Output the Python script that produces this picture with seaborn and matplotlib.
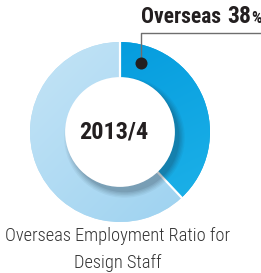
import matplotlib
matplotlib.use("Agg")
import numpy as np
import matplotlib.pyplot as plt
import seaborn as sns
from matplotlib.patches import Circle
from matplotlib.colors import LinearSegmentedColormap

# data
segments = ["Overseas", "Domestic"]
shares = [38, 62]
period = "2013/4"
caption = "Overseas Employment Ratio for\nDesign Staff"

sns.set_style("white")
plt.rcParams["font.family"] = ["Roboto Condensed", "DejaVu Sans"]

W, H = 261, 273
fig = plt.figure(figsize=(W / 100, H / 100), dpi=100)

# donut centred at (120, 132) px, radius 90 px
cx, cy, r = 120, 132, 90
ax = fig.add_axes([(cx - r) / W, (H - cy - r) / H, 2 * r / W, 2 * r / H])

base = ["#0aa5e2", "#b2dbf3"]
wedges, _ = ax.pie(shares, colors=base, startangle=90, counterclock=False, radius=1,
                   wedgeprops=dict(width=0.40, edgecolor="none", linewidth=0))

# diagonal gradients clipped to each wedge
gy, gx = np.mgrid[1:-1:200j, -1:1:200j]
grads = [
    (["#0098dc", "#1fb3e9"], (gx * 0.5 - gy) / 1.5),
    (["#c4e4f6", "#9bd1f0"], (gx - gy) / 2),
]
for w, (cols, z) in zip(wedges, grads):
    im = ax.imshow(z, extent=[-1, 1, -1, 1], cmap=LinearSegmentedColormap.from_list("g", cols),
                   vmin=-1, vmax=1, zorder=1.5, interpolation="bilinear")
    im.set_clip_path(w)

# white separators
total = sum(shares)
for ang in [90, 90 - 360 * shares[0] / total]:
    t = np.deg2rad(ang)
    ax.plot([0.6 * np.cos(t), np.cos(t)], [0.6 * np.sin(t), np.sin(t)], color="white",
            lw=1.6, zorder=2)

ax.set_xlim(-1, 1)
ax.set_ylim(-1, 1)
ax.set_aspect("equal")
ax.axis("off")

# soft shadow under the centre disc
for i, a in enumerate([0.05, 0.06, 0.07, 0.08, 0.10]):
    ax.add_patch(Circle((0.05, -0.06), 0.67 - i * 0.015, color="#1a2a3a", alpha=a, lw=0, zorder=3))
ax.add_patch(Circle((0, 0), 0.61, color="white", lw=0, zorder=4))
ax.text(-0.065, 0.0, period, ha="center", va="center", fontsize=17.5, fontweight="bold",
        color="#231f20", zorder=5)

# leader to the overseas label
dot = (0.233, 0.767)
ax.plot([dot[0], dot[0], 1.57], [dot[1], 1.10, 1.10], color="#6e6e6e", lw=1.0,
        clip_on=False, zorder=5)
ax.scatter([dot[0]], [dot[1]], s=75, color="#231f20", lw=0, zorder=6, clip_on=False)

# overseas label, pieces placed one after another
rend = fig.canvas.get_renderer()
x = 141
for s, size, gap in [(segments[0], 15.5, 6), (f"{shares[0]}", 17, 0), ("%", 12, 0)]:
    t = fig.text(x / W, 1 - 23 / H, s, ha="left", va="baseline", fontsize=size,
                 fontweight="bold", color="#231f20")
    x = t.get_window_extent(rend).x1 + gap

# caption
fig.text(118 / W, 1 - 249.5 / H, caption, ha="center", va="center", fontsize=13.2,
         fontweight="light", color="#333333", linespacing=1.6)

fig.savefig("out.png", dpi=100)
